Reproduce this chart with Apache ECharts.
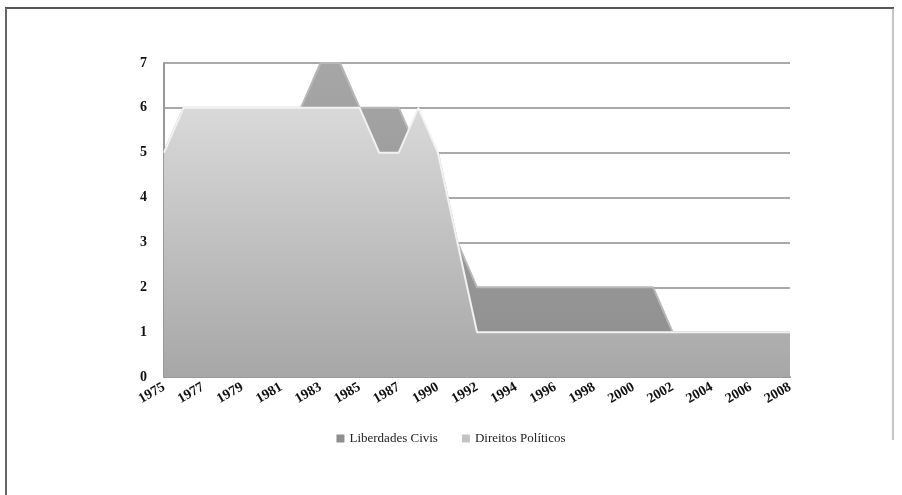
<!DOCTYPE html>
<html>
<head>
<meta charset="utf-8">
<script src="https://cdn.jsdelivr.net/npm/echarts@6/dist/echarts.min.js"></script>
<style>
  html, body { margin: 0; padding: 0; background: #fff; }
  #main { width: 902px; height: 495px; }
</style>
</head>
<body>
<div id="main"></div>
<script>
// anos (uma categoria entre 1987 e 1990)
let years = ['1975', '1976', '1977', '1978', '1979', '1980', '1981', '1982', '1983', '1984',
  '1985', '1986', '1987', '1988', '1990', '1991', '1992', '1993', '1994', '1995', '1996',
  '1997', '1998', '1999', '2000', '2001', '2002', '2003', '2004', '2005', '2006', '2007', '2008'];
let liberdadesCivis = [5, 6, 6, 6, 6, 6, 6, 6, 7, 7, 6, 6, 6, 5, 5, 3, 2, 2, 2, 2, 2,
  2, 2, 2, 2, 2, 1, 1, 1, 1, 1, 1, 1];
let direitosPoliticos = [5, 6, 6, 6, 6, 6, 6, 6, 6, 6, 6, 5, 5, 6, 5, 3, 1, 1, 1, 1, 1,
  1, 1, 1, 1, 1, 1, 1, 1, 1, 1, 1, 1];
let yTicks = [0, 1, 2, 3, 4, 5, 6, 7];

let chart = echarts.init(document.getElementById('main'));
let serif = '"Liberation Serif", "DejaVu Serif", serif';

let option = {
  backgroundColor: '#fff',
  animation: false,
  graphic: [
    // moldura do gráfico (topo, esquerda, direita)
    { type: 'line', shape: { x1: 5, y1: 8, x2: 894, y2: 8 }, style: { stroke: '#555', lineWidth: 2 } },
    { type: 'line', shape: { x1: 6, y1: 8, x2: 6, y2: 495 }, style: { stroke: '#666', lineWidth: 2 } },
    { type: 'line', shape: { x1: 893, y1: 8, x2: 893, y2: 440 }, style: { stroke: '#888', lineWidth: 1 } }
  ],
  grid: {
    left: 164,
    right: 112,
    top: 63,
    bottom: 118
  },
  legend: {
    bottom: 45,
    left: 'center',
    itemWidth: 8,
    itemHeight: 8,
    itemGap: 24,
    icon: 'rect',
    textStyle: { fontFamily: serif, fontSize: 13, color: '#222' },
    data: ['Liberdades Civis', 'Direitos Políticos']
  },
  xAxis: {
    type: 'category',
    boundaryGap: false,
    data: years,
    axisLine: { show: true, lineStyle: { color: '#999', width: 2 } },
    axisTick: { show: false },
    axisLabel: {
      interval: 1,
      rotate: 30,
      margin: 9,
      fontFamily: serif,
      fontWeight: 'bold',
      fontSize: 14,
      color: '#111'
    },
    splitLine: { show: false }
  },
  yAxis: {
    type: 'value',
    min: yTicks[0],
    max: yTicks[yTicks.length - 1],
    interval: 1,
    axisLine: { show: true, lineStyle: { color: '#999', width: 2 } },
    axisTick: { show: false },
    axisLabel: {
      margin: 17,
      fontFamily: serif,
      fontWeight: 'bold',
      fontSize: 14,
      color: '#111'
    },
    splitLine: { lineStyle: { color: '#8c8c8c', width: 1.5 } }
  },
  series: [
    {
      name: 'Liberdades Civis',
      type: 'line',
      data: liberdadesCivis,
      symbol: 'none',
      itemStyle: { color: '#8f8f8f' },
      lineStyle: { color: '#b8b8b8', width: 2 },
      areaStyle: {
        opacity: 1,
        color: new echarts.graphic.LinearGradient(0, 0, 0, 1, [
          { offset: 0, color: '#a6a6a6' },
          { offset: 1, color: '#8e8e8e' }
        ])
      },
      z: 2
    },
    {
      name: 'Direitos Políticos',
      type: 'line',
      data: direitosPoliticos,
      symbol: 'none',
      itemStyle: { color: '#c4c4c4' },
      lineStyle: { color: '#f2f2f2', width: 2 },
      areaStyle: {
        opacity: 1,
        color: new echarts.graphic.LinearGradient(0, 0, 0, 1, [
          { offset: 0, color: '#d9d9d9' },
          { offset: 1, color: '#a7a7a7' }
        ])
      },
      z: 3
    }
  ]
};

chart.setOption(option);
</script>
</body>
</html>
